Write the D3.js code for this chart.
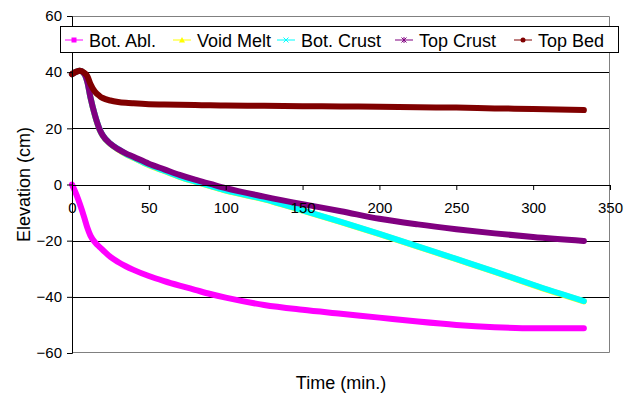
<!DOCTYPE html>
<html>
<head>
<meta charset="utf-8">
<script src="https://cdn.jsdelivr.net/npm/d3@7"></script>
<style>
  body { margin: 0; background: #fff; }
  svg { display: block; font-family: "Liberation Sans", Arial, sans-serif; }
</style>
</head>
<body>
<div id="chart"></div>
<script>
// time (min.) shared by all series
const times = [0, 3, 5, 8, 10, 12, 15, 18, 20, 25, 30, 35, 40, 50, 60, 70, 80, 90, 100, 125, 150, 175, 200, 225, 250, 275, 300, 333];

const botAbl    = [0, -3.8, -6.8, -11.8, -15.4, -18.2, -20.6, -22.3, -23.3, -25.8, -27.6, -29.1, -30.4, -32.6, -34.4, -36.0, -37.5, -39.0, -40.3, -42.9, -44.6, -46.0, -47.4, -48.8, -50.0, -50.8, -51.2, -51.2];
const voidMelt  = [39.3, 40.2, 40.5, 39.4, 36.5, 31.0, 24.4, 19.5, 17.4, 14.4, 12.5, 10.8, 9.5, 6.9, 4.8, 2.7, 1.0, -0.6, -2.2, -5.3, -9.3, -13.4, -17.7, -22.1, -26.6, -31.1, -35.8, -41.6];
const botCrust  = [39.3, 40.2, 40.5, 39.4, 36.5, 31.0, 24.5, 19.6, 17.5, 14.5, 12.6, 10.9, 9.6, 7.0, 4.9, 2.8, 1.1, -0.5, -2.1, -5.2, -9.2, -13.3, -17.6, -22.0, -26.5, -31.0, -35.7, -41.5];
const topCrust  = [39.3, 40.2, 40.5, 39.4, 36.5, 31.0, 24.5, 19.6, 17.5, 14.5, 12.6, 11.1, 9.9, 7.4, 5.4, 3.4, 1.7, 0.2, -1.3, -4.3, -7.0, -9.5, -12.2, -14.2, -15.9, -17.4, -18.7, -20.1];
const topBed    = [39.3, 40.2, 40.5, 39.8, 38.6, 35.8, 33.0, 31.5, 30.8, 29.9, 29.4, 29.1, 28.9, 28.6, 28.5, 28.4, 28.3, 28.2, 28.1, 28.0, 27.9, 27.8, 27.7, 27.5, 27.4, 27.1, 26.9, 26.5];

const seriesNames  = ['Bot. Abl.', 'Void Melt', 'Bot. Crust', 'Top Crust', 'Top Bed'];
const seriesColors = ['#FF00FF', '#FFFF00', '#00FFFF', '#800080', '#800000'];
const seriesMarks  = ['square', 'triangle', 'x', 'star', 'circle'];
const seriesValues = [botAbl, voidMelt, botCrust, topCrust, topBed];

const xTicks = [0, 50, 100, 150, 200, 250, 300, 350];
const yTicks = [-60, -40, -20, 0, 20, 40, 60];

const width = 638, height = 396;
const margin = { left: 72, top: 16, right: 28, bottom: 43 };
const innerW = width - margin.left - margin.right;
const innerH = height - margin.top - margin.bottom;

const svg = d3.select('#chart').append('svg')
    .attr('width', width)
    .attr('height', height);

const g = svg.append('g')
    .attr('transform', `translate(${margin.left},${margin.top})`);

const x = d3.scaleLinear().domain([0, 350]).range([0, innerW]);
const y = d3.scaleLinear().domain([-60, 60]).range([innerH, 0]);

// gridlines
g.selectAll('.grid')
    .data(yTicks.filter(d => d !== 0 && Math.abs(d) !== 60))
    .enter().append('line')
    .attr('x1', 0).attr('x2', innerW)
    .attr('y1', d => Math.round(y(d)) + 0.5)
    .attr('y2', d => Math.round(y(d)) + 0.5)
    .attr('stroke', '#000');

// plot border (grey)
g.append('path')
    .attr('d', `M0,0.5H${innerW - 0.5}V${innerH - 0.5}H0`)
    .attr('fill', 'none')
    .attr('stroke', '#808080');

// series
const line = d3.line()
    .x(d => x(d[0]))
    .y(d => y(d[1]))
    .curve(d3.curveMonotoneX);

seriesValues.forEach((vals, i) => {
    g.append('path')
        .datum(times.map((t, k) => [t, vals[k]]))
        .attr('fill', 'none')
        .attr('stroke', seriesColors[i])
        .attr('stroke-width', 6)
        .attr('stroke-linecap', 'round')
        .attr('stroke-linejoin', 'round')
        .attr('d', line);
});

// axes
const yAxis = d3.axisLeft(y).tickValues(yTicks).tickSize(5).tickPadding(5);
const yAxisG = g.append('g').call(yAxis);

const xAxis = d3.axisBottom(x).tickValues(xTicks).tickSize(5).tickPadding(12);
const xAxisG = g.append('g')
    .attr('transform', `translate(0,${Math.round(y(0))})`)
    .call(xAxis);

[yAxisG, xAxisG].forEach(a => {
    a.selectAll('.domain').attr('stroke', '#000');
    a.selectAll('line').attr('stroke', '#000');
    a.selectAll('text')
        .attr('fill', '#000')
        .style('font-size', '15px')
        .style('font-family', '"Liberation Sans", Arial, sans-serif');
});
xAxisG.select('.domain').attr('d', `M0,0.5H${innerW}`);

// axis titles
svg.append('text')
    .attr('x', margin.left + innerW / 2)
    .attr('y', 389)
    .attr('text-anchor', 'middle')
    .style('font-size', '18px')
    .text('Time (min.)');

svg.append('text')
    .attr('transform', `translate(30,${margin.top + innerH / 2}) rotate(-90)`)
    .attr('text-anchor', 'middle')
    .style('font-size', '18px')
    .text('Elevation (cm)');

// legend
const legend = svg.append('g');
legend.append('rect')
    .attr('x', 60.5).attr('y', 26.5)
    .attr('width', 558).attr('height', 26)
    .attr('fill', '#fff')
    .attr('stroke', '#000');

const legendX = [65, 173, 277, 395, 514];
seriesNames.forEach((name, i) => {
    const lx = legendX[i], ly = 40;
    const item = legend.append('g').attr('transform', `translate(${lx},${ly})`);
    item.append('line')
        .attr('x1', 0).attr('x2', 18)
        .attr('stroke', seriesColors[i]);
    const c = seriesColors[i];
    const m = item.append('g').attr('transform', 'translate(9,0)');
    if (seriesMarks[i] === 'square') {
        m.append('rect').attr('x', -2.5).attr('y', -2.5).attr('width', 5).attr('height', 5).attr('fill', c);
    } else if (seriesMarks[i] === 'triangle') {
        m.append('path').attr('d', 'M0,-3L3,2.5H-3Z').attr('fill', c);
    } else if (seriesMarks[i] === 'x') {
        m.append('path').attr('d', 'M-2.5,-2.5L2.5,2.5M-2.5,2.5L2.5,-2.5').attr('stroke', c);
    } else if (seriesMarks[i] === 'star') {
        m.append('path').attr('d', 'M-2.5,-2.5L2.5,2.5M-2.5,2.5L2.5,-2.5M0,-3V3').attr('stroke', c);
    } else {
        m.append('circle').attr('r', 2.5).attr('fill', c);
    }
    item.append('text')
        .attr('x', 24)
        .attr('y', 6.5)
        .style('font-size', '18px')
        .attr('fill', '#000')
        .text(name);
});
</script>
</body>
</html>
